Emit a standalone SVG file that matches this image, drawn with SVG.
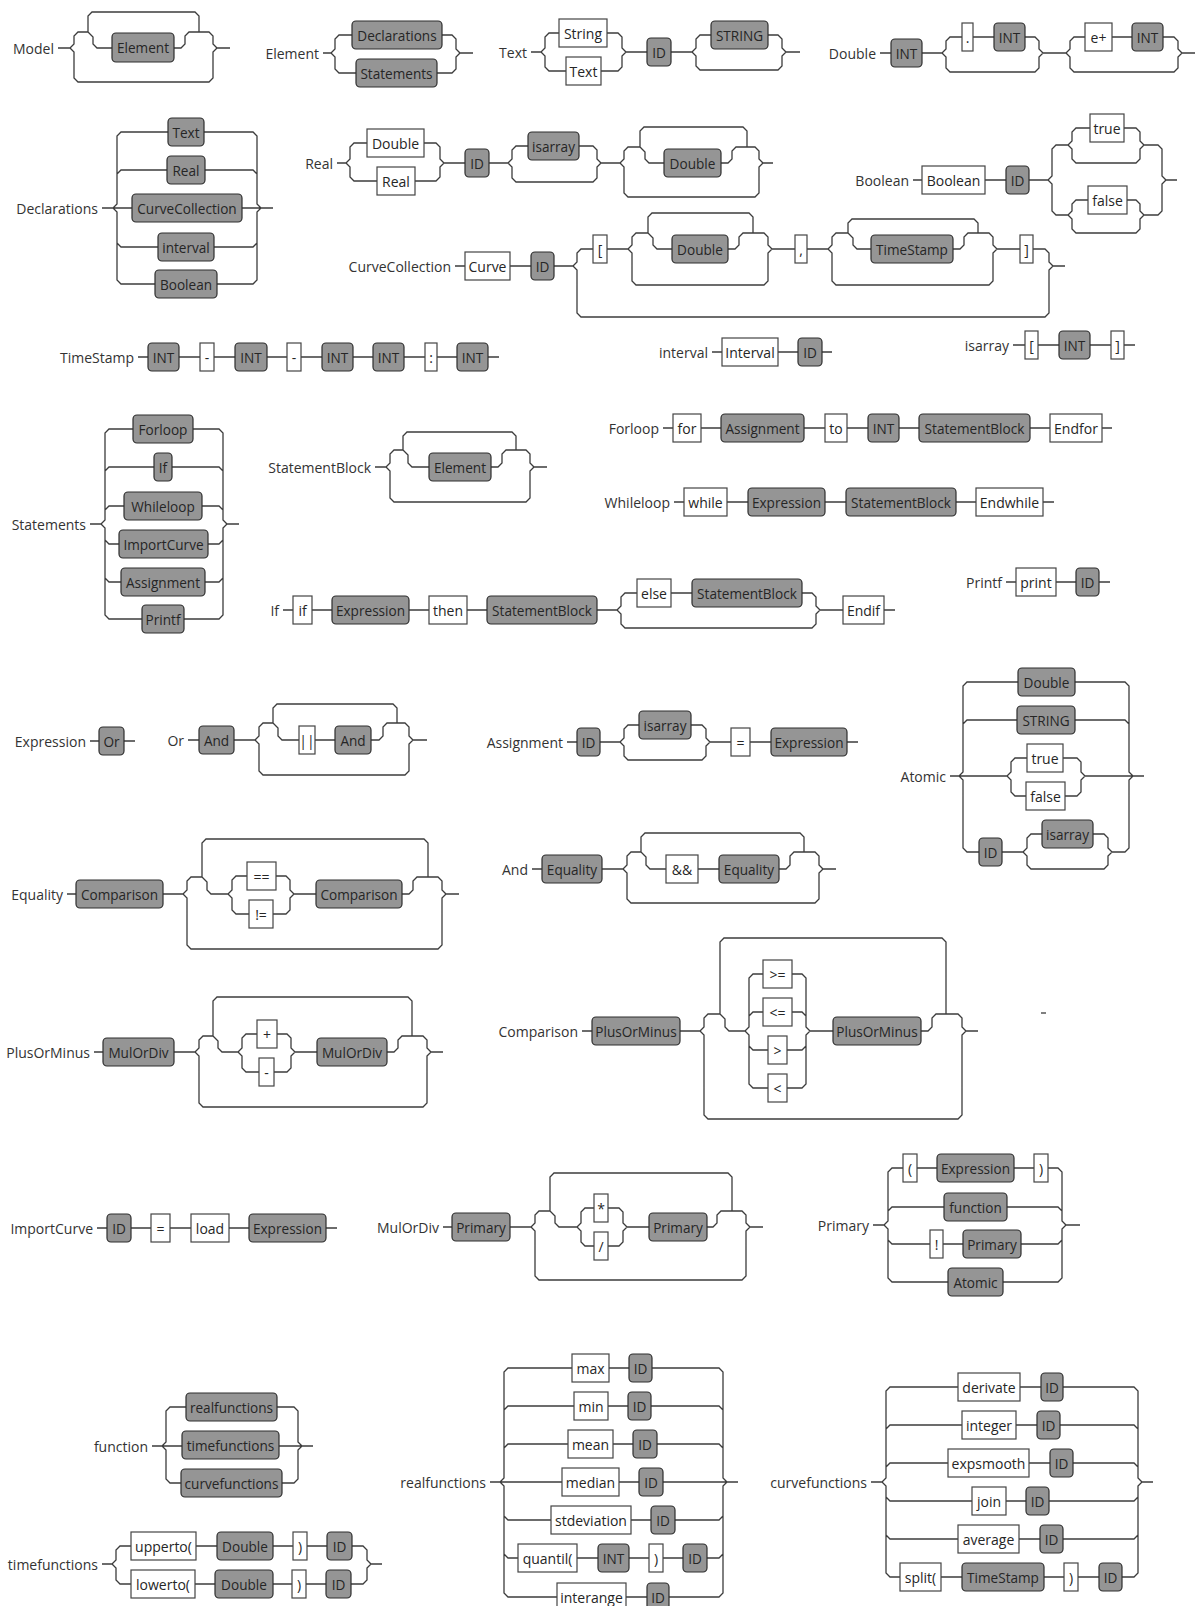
<svg xmlns="http://www.w3.org/2000/svg" width="1195" height="1606" viewBox="0 0 1195 1606">
<style>
text{font-family:"Open Sans","Noto Sans","DejaVu Sans",sans-serif;font-size:14px;fill:#262626}
.lbl{text-anchor:end;dominant-baseline:central;fill:#333}
.nt rect{fill:#959595;stroke:#2e2e2e;stroke-width:1.2}
.t rect{fill:#fff;stroke:#444;stroke-width:1.2}
.nt text,.t text{text-anchor:middle;dominant-baseline:central}
.nt text{font-size:13.6px}
#connectors path{fill:none;stroke:#3c3c3c;stroke-width:1.3}
</style>
<rect width="1195" height="1606" fill="#fff"/>
<g id="connectors">
<!-- Model -->
<path d="M58,48 H70 M70,48 L74,44 V36 L78,32 H88 M70,48 L74,52 V78 L78,82 H209 L213,78 V52 L217,48 M88,32 V16 L92,12 H195 L199,16 V32 M88,32 L93,37 V44 L97,48 H112 M174,48 H181 L185,44 V36 L189,32 H209 L213,36 V44 L217,48 H230"/>
<!-- Element -->
<path d="M323,53 H331 M331,53 L335,49 V39 L339,35 H352 M331,53 L335,57 V69 L339,73 H356 M442,35 H452 L456,39 V49 L460,53 H473 M437,73 H452 L456,69 V57 L460,53"/>
<!-- Text -->
<path d="M531,52 H541 M541,52 L545,48 V37 L549,33 H559 M541,52 L545,56 V67 L549,71 H566 M607,33 H618 L622,37 V48 L626,52 H647 M601,71 H618 L622,67 V56 L626,52 M671,52 H692 M692,52 L696,48 V39 L700,35 H711 M692,52 L696,56 V66 L700,70 H778 L782,66 V56 L786,52 M768,35 H778 L782,39 V48 L786,52 H800"/>
<!-- Double -->
<path d="M880,53 H891 M922,53 H942 M942,53 L946,49 V41 L950,37 H962 M973,37 H994 M1025,37 H1035 L1039,41 V49 L1043,53 M942,53 L946,57 V68 L950,72 H1035 L1039,68 V57 L1043,53 M1043,53 H1066 M1066,53 L1070,49 V41 L1074,37 H1085 M1112,37 H1132 M1163,37 H1174 L1178,41 V49 L1182,53 H1195 M1066,53 L1070,57 V68 L1074,72 H1174 L1178,68 V57 L1182,53"/>
<!-- Declarations -->
<path d="M102,208 H132 M113,208 L117,204 V136 L121,132 H168 M117,174 L121,170 H167 M117,243 L121,247 H158 M113,208 L117,212 V280 L121,284 H155 M204,132 H253 L257,136 V204 L261,208 H273 M205,170 H253 L257,174 M242,208 H261 M214,247 H253 L257,243 M217,284 H253 L257,280 V212 L261,208"/>
<!-- Real -->
<path d="M337,163 H346 M346,163 L350,159 V147 L354,143 H367 M346,163 L350,167 V177 L354,181 H377 M424,143 H436 L440,147 V159 L444,163 H465 M415,181 H436 L440,177 V167 L444,163 M489,163 H508 M508,163 L512,159 V150 L516,146 H528 M579,146 H593 L597,150 V159 L601,163 M508,163 L512,167 V178 L516,182 H593 L597,178 V167 L601,163 M601,163 H620 M620,163 L624,159 V151 L628,147 H640 M640,147 V131 L644,127 H743 L747,131 V147 M640,147 L645,152 V159 L649,163 H664 M721,163 H728 L732,159 V151 L736,147 H755 L759,151 V159 L763,163 H773 M620,163 L624,167 V193 L628,197 H755 L759,193 V167 L763,163"/>
<!-- Boolean -->
<path d="M913,180 H922 M985,180 H1006 M1029,180 H1048 M1048,180 L1052,176 V149 L1056,145 H1068 M1048,180 L1052,184 V211 L1056,215 H1068 M1068,145 L1072,141 V132 L1076,128 H1090 M1124,128 H1136 L1140,132 V141 L1144,145 M1068,145 L1072,149 V159 L1076,163 H1136 L1140,159 V149 L1144,145 M1068,215 L1072,211 V204 L1076,200 H1088 M1127,200 H1136 L1140,204 V211 L1144,215 M1068,215 L1072,219 V229 L1076,233 H1136 L1140,229 V219 L1144,215 M1144,145 H1158 L1162,149 V176 L1166,180 H1177 M1144,215 H1158 L1162,211 V184 L1166,180"/>
<!-- CurveCollection -->
<path d="M455,266 H465 M510,266 H531 M554,266 H573 M573,266 L577,262 V253 L581,249 H593 M573,266 L577,270 V313 L581,317 H1045 L1049,313 V270 L1053,266 M607,249 H628 M628,249 L632,245 V237 L636,233 H648 M648,233 V217 L652,213 H749 L753,217 V233 M648,233 L653,238 V245 L657,249 H672 M728,249 H735 L739,245 V237 L743,233 H764 L768,237 V245 L772,249 M628,249 L632,253 V281 L636,285 H764 L768,281 V253 L772,249 M772,249 H795 M807,249 H828 M828,249 L832,245 V237 L836,233 H848 M848,233 V223 L852,219 H974 L978,223 V233 M848,233 L853,238 V245 L857,249 H871 M953,249 H960 L964,245 V237 L968,233 H989 L993,237 V245 L997,249 M828,249 L832,253 V281 L836,285 H989 L993,281 V253 L997,249 M997,249 H1020 M1033,249 H1045 L1049,253 V262 L1053,266 H1065"/>
<!-- TimeStamp -->
<path d="M138,357 H148 M179,357 H200 M214,357 H235 M267,357 H287 M301,357 H322 M353,357 H373 M404,357 H425 M437,357 H457 M488,357 H499"/>
<!-- interval -->
<path d="M712,352 H722 M778,352 H798 M822,352 H832"/>
<!-- isarray -->
<path d="M1013,345 H1025 M1038,345 H1059 M1090,345 H1111 M1124,345 H1135"/>
<!-- Statements -->
<path d="M90,524 H101 M101,524 L105,520 V433 L109,429 H133 M101,524 L105,528 V615 L109,619 H142 M105,471 L109,467 H154 M105,510 L109,506 H124 M105,540 L109,544 H119 M105,578 L109,582 H121 M193,429 H219 L223,433 V520 L227,524 H239 M184,619 H219 L223,615 V528 L227,524 M172,467 H219 L223,471 M202,506 H219 L223,510 M208,544 H219 L223,540 M205,582 H219 L223,578"/>
<!-- StatementBlock -->
<path d="M375,467 H386 M386,467 L390,463 V454 L394,450 H403 M403,450 V436 L407,432 H512 L516,436 V450 M403,450 L408,455 V463 L412,467 H429 M491,467 H498 L502,463 V454 L506,450 H526 L530,454 V463 L534,467 H547 M386,467 L390,471 V498 L394,502 H526 L530,498 V471 L534,467"/>
<!-- Forloop -->
<path d="M663,428 H673 M701,428 H721 M804,428 H825 M847,428 H868 M899,428 H919 M1030,428 H1050 M1102,428 H1112"/>
<!-- Whileloop -->
<path d="M674,502 H684 M727,502 H748 M825,502 H846 M956,502 H976 M1043,502 H1054"/>
<!-- If -->
<path d="M283,610 H293 M312,610 H332 M409,610 H429 M467,610 H487 M597,610 H617 M617,610 L621,606 V597 L625,593 H637 M671,593 H692 M802,593 H812 L816,597 V606 L820,610 M617,610 L621,614 V624 L625,628 H812 L816,624 V614 L820,610 M820,610 H843 M884,610 H895"/>
<!-- Printf -->
<path d="M1006,582 H1016 M1056,582 H1076 M1099,582 H1110"/>
<!-- Expression -->
<path d="M90,741 H99 M124,741 H135"/>
<!-- Or -->
<path d="M188,740 H199 M234,740 H255 M255,740 L259,736 V727 L263,723 H273 M273,723 V708 L277,704 H393 L397,708 V723 M273,723 L278,728 V736 L282,740 H299 M315,740 H335 M371,740 H379 L383,736 V727 L387,723 H405 L409,727 V736 L413,740 H427 M255,740 L259,744 V771 L263,775 H405 L409,771 V744 L413,740"/>
<!-- Assignment -->
<path d="M567,742 H577 M600,742 H620 M620,742 L624,738 V729 L628,725 H639 M691,725 H702 L706,729 V738 L710,742 M620,742 L624,746 V756 L628,760 H702 L706,756 V746 L710,742 M710,742 H731 M750,742 H771 M847,742 H858"/>
<!-- Atomic -->
<path d="M950,776 H1007 M959,776 L963,772 V686 L967,682 H1018 M959,776 L963,780 V848 L967,852 H979 M963,724 L967,720 H1017 M1007,776 L1011,772 V762 L1015,758 H1027 M1063,758 H1077 L1081,762 V772 L1085,776 M1007,776 L1011,780 V792 L1015,796 H1026 M1065,796 H1077 L1081,792 V780 L1085,776 M1085,776 H1144 M1002,852 H1023 M1023,852 L1027,848 V838 L1031,834 H1042 M1093,834 H1104 L1108,838 V848 L1112,852 M1023,852 L1027,856 V865 L1031,869 H1104 L1108,865 V856 L1112,852 M1112,852 H1125 L1129,848 V780 L1133,776 M1075,682 H1125 L1129,686 V772 L1133,776 M1075,720 H1125 L1129,724"/>
<!-- Equality -->
<path d="M67,894 H76 M163,894 H183 M183,894 L187,890 V881 L191,877 H202 M202,877 V843 L206,839 H424 L428,843 V877 M202,877 L207,882 V890 L211,894 H228 M228,894 L232,890 V880 L236,876 H247 M276,876 H286 L290,880 V890 L294,894 M228,894 L232,898 V910 L236,914 H249 M273,914 H286 L290,910 V898 L294,894 M294,894 H316 M402,894 H409 L413,890 V881 L417,877 H438 L442,881 V890 L446,894 H459 M183,894 L187,898 V945 L191,949 H438 L442,945 V898 L446,894"/>
<!-- PlusOrMinus -->
<path d="M94,1052 H103 M174,1052 H195 M195,1052 L199,1048 V1040 L203,1036 H213 M213,1036 V1001 L217,997 H408 L412,1001 V1036 M213,1036 L218,1041 V1048 L222,1052 H238 M238,1052 L242,1048 V1038 L246,1034 H257 M277,1034 H287 L291,1038 V1048 L295,1052 M238,1052 L242,1056 V1068 L246,1072 H259 M274,1072 H287 L291,1068 V1056 L295,1052 M295,1052 H317 M387,1052 H394 L398,1048 V1040 L402,1036 H423 L427,1040 V1048 L431,1052 H443 M195,1052 L199,1056 V1103 L203,1107 H423 L427,1103 V1056 L431,1052"/>
<!-- And -->
<path d="M532,869 H542 M602,869 H623 M623,869 L627,865 V856 L631,852 H641 M641,852 V837 L645,833 H800 L804,837 V852 M641,852 L646,857 V865 L650,869 H666 M698,869 H719 M779,869 H786 L790,865 V856 L794,852 H815 L819,856 V865 L823,869 H836 M623,869 L627,873 V899 L631,903 H815 L819,899 V873 L823,869"/>
<!-- Comparison -->
<path d="M582,1031 H592 M680,1031 H700 M700,1031 L704,1027 V1018 L708,1014 H720 M720,1014 V942 L724,938 H942 L946,942 V1014 M720,1014 L725,1019 V1027 L729,1031 H745 M745,1031 L749,1027 V978 L753,974 H763 M749,1016 L753,1012 H763 M749,1046 L753,1050 H768 M745,1031 L749,1035 V1084 L753,1088 H768 M792,974 H802 L806,978 V1027 L810,1031 M792,1012 H802 L806,1016 M787,1050 H802 L806,1046 M787,1088 H802 L806,1084 V1035 L810,1031 M810,1031 H833 M921,1031 H928 L932,1027 V1018 L936,1014 H958 L962,1018 V1027 L966,1031 H978 M700,1031 L704,1035 V1115 L708,1119 H958 L962,1115 V1035 L966,1031"/>
<!-- ImportCurve -->
<path d="M97,1228 H107 M131,1228 H151 M170,1228 H191 M229,1228 H249 M326,1228 H337"/>
<!-- MulOrDiv -->
<path d="M443,1227 H452 M510,1227 H531 M531,1227 L535,1223 V1215 L539,1211 H550 M550,1211 V1177 L554,1173 H728 L732,1177 V1211 M550,1211 L555,1216 V1223 L559,1227 H577 M577,1227 L581,1223 V1212 L585,1208 H594 M608,1208 H619 L623,1212 V1223 L627,1227 M577,1227 L581,1231 V1242 L585,1246 H594 M608,1246 H619 L623,1242 V1231 L627,1227 M627,1227 H649 M707,1227 H713 L717,1223 V1215 L721,1211 H742 L746,1215 V1223 L750,1227 H763 M531,1227 L535,1231 V1276 L539,1280 H742 L746,1276 V1231 L750,1227"/>
<!-- Primary -->
<path d="M873,1225 H884 M884,1225 L888,1221 V1172 L892,1168 H903 M888,1211 L892,1207 H944 M888,1240 L892,1244 H930 M884,1225 L888,1229 V1278 L892,1282 H948 M917,1168 H937 M1014,1168 H1034 M1048,1168 H1058 L1062,1172 V1221 L1066,1225 H1080 M1007,1207 H1058 L1062,1211 M943,1244 H963 M1021,1244 H1058 L1062,1240 M1003,1282 H1058 L1062,1278 V1229 L1066,1225"/>
<!-- function -->
<path d="M152,1446 H182 M162,1446 L166,1442 V1411 L170,1407 H186 M162,1446 L166,1450 V1479 L170,1483 H181 M277,1407 H294 L298,1411 V1442 L302,1446 H313 M279,1446 H302 M282,1483 H294 L298,1479 V1450 L302,1446"/>
<!-- timefunctions -->
<path d="M102,1564 H112 M112,1564 L116,1560 V1550 L120,1546 H131 M196,1546 H217 M273,1546 H293 M307,1546 H327 M352,1546 H363 L367,1550 V1560 L371,1564 H382 M112,1564 L116,1568 V1580 L120,1584 H131 M195,1584 H215 M273,1584 H292 M306,1584 H326 M351,1584 H363 L367,1580 V1568 L371,1564"/>
<!-- realfunctions -->
<path d="M490,1482 H562 M500,1482 L504,1478 V1372 L508,1368 H572 M504,1410 L508,1406 H574 M504,1448 L508,1444 H568 M504,1516 L508,1520 H551 M504,1554 L508,1558 H518 M500,1482 L504,1486 V1593 L508,1597 H557 M609,1368 H629 M652,1368 H719 L723,1372 V1478 L727,1482 H738 M608,1406 H628 M651,1406 H719 L723,1410 M613,1444 H633 M657,1444 H719 L723,1448 M619,1482 H639 M663,1482 H727 M631,1520 H651 M675,1520 H719 L723,1516 M577,1558 H598 M629,1558 H649 M663,1558 H683 M707,1558 H719 L723,1554 M626,1597 H647 M669,1597 H719 L723,1593 V1486 L727,1482"/>
<!-- curvefunctions -->
<path d="M871,1482 H882 M882,1482 L886,1478 V1391 L890,1387 H958 M886,1429 L890,1425 H962 M886,1467 L890,1463 H948 M886,1497 L890,1501 H972 M886,1535 L890,1539 H958 M882,1482 L886,1486 V1573 L890,1577 H900 M1020,1387 H1041 M1063,1387 H1134 L1138,1391 V1478 L1142,1482 H1153 M1016,1425 H1037 M1060,1425 H1134 L1138,1429 M1029,1463 H1050 M1073,1463 H1134 L1138,1467 M1006,1501 H1026 M1049,1501 H1134 L1138,1497 M1019,1539 H1040 M1063,1539 H1134 L1138,1535 M941,1577 H962 M1044,1577 H1064 M1078,1577 H1099 M1122,1577 H1134 L1138,1573 V1486 L1142,1482"/>
<!-- stray mark -->
<path d="M1041,1013 H1046"/>
</g>

<g id="rule-Model"><text class="lbl" x="54" y="48">Model</text>
<g id="model-element" class="nt"><rect x="112" y="33" width="62" height="29" rx="4"/><text x="143" y="47.5">Element</text></g>
</g>
<g id="rule-Element"><text class="lbl" x="319" y="53">Element</text>
<g id="element-declarations" class="nt"><rect x="352" y="21" width="90" height="28" rx="4"/><text x="397" y="35">Declarations</text></g>
<g id="element-statements" class="nt"><rect x="356" y="59" width="81" height="28" rx="4"/><text x="396.5" y="73">Statements</text></g>
</g>
<g id="rule-Text"><text class="lbl" x="527" y="52">Text</text>
<g id="text-string" class="t"><rect x="559" y="19" width="48" height="28"/><text x="583" y="33">String</text></g>
<g id="text-text" class="t"><rect x="566" y="57" width="35" height="28"/><text x="583.5" y="71">Text</text></g>
<g id="text-id" class="nt"><rect x="647" y="38" width="24" height="28" rx="4"/><text x="659" y="52">ID</text></g>
<g id="text-STRING" class="nt"><rect x="711" y="21" width="57" height="28" rx="4"/><text x="739.5" y="35">STRING</text></g>
</g>
<g id="rule-Double"><text class="lbl" x="876" y="53">Double</text>
<g id="double-int1" class="nt"><rect x="891" y="39" width="31" height="28" rx="4"/><text x="906.5" y="53">INT</text></g>
<g id="double-dot" class="t"><rect x="962" y="23" width="11" height="28"/><text x="967.5" y="37">.</text></g>
<g id="double-int2" class="nt"><rect x="994" y="23" width="31" height="28" rx="4"/><text x="1009.5" y="37">INT</text></g>
<g id="double-eplus" class="t"><rect x="1085" y="23" width="27" height="28"/><text x="1098.5" y="37">e+</text></g>
<g id="double-int3" class="nt"><rect x="1132" y="23" width="31" height="28" rx="4"/><text x="1147.5" y="37">INT</text></g>
</g>
<g id="rule-Declarations"><text class="lbl" x="98" y="208">Declarations</text>
<g id="decl-text" class="nt"><rect x="168" y="118" width="36" height="28" rx="4"/><text x="186" y="132">Text</text></g>
<g id="decl-real" class="nt"><rect x="167" y="156" width="38" height="28" rx="4"/><text x="186" y="170">Real</text></g>
<g id="decl-cc" class="nt"><rect x="132" y="194" width="110" height="28" rx="4"/><text x="187" y="208">CurveCollection</text></g>
<g id="decl-interval" class="nt"><rect x="158" y="233" width="56" height="28" rx="4"/><text x="186" y="247">interval</text></g>
<g id="decl-boolean" class="nt"><rect x="155" y="270" width="62" height="28" rx="4"/><text x="186" y="284">Boolean</text></g>
</g>
<g id="rule-Real"><text class="lbl" x="333" y="163">Real</text>
<g id="real-double" class="t"><rect x="367" y="129" width="57" height="28"/><text x="395.5" y="143">Double</text></g>
<g id="real-real" class="t"><rect x="377" y="167" width="38" height="28"/><text x="396" y="181">Real</text></g>
<g id="real-id" class="nt"><rect x="465" y="149" width="24" height="28" rx="4"/><text x="477" y="163">ID</text></g>
<g id="real-isarray" class="nt"><rect x="528" y="132" width="51" height="28" rx="4"/><text x="553.5" y="146">isarray</text></g>
<g id="real-double2" class="nt"><rect x="664" y="149" width="57" height="28" rx="4"/><text x="692.5" y="163">Double</text></g>
</g>
<g id="rule-Boolean"><text class="lbl" x="909" y="180">Boolean</text>
<g id="bool-kw" class="t"><rect x="922" y="166" width="63" height="28"/><text x="953.5" y="180">Boolean</text></g>
<g id="bool-id" class="nt"><rect x="1006" y="166" width="23" height="28" rx="4"/><text x="1017.5" y="180">ID</text></g>
<g id="bool-true" class="t"><rect x="1090" y="114" width="34" height="28"/><text x="1107" y="128">true</text></g>
<g id="bool-false" class="t"><rect x="1088" y="186" width="39" height="28"/><text x="1107.5" y="200">false</text></g>
</g>
<g id="rule-CurveCollection"><text class="lbl" x="451" y="266">CurveCollection</text>
<g id="cc-curve" class="t"><rect x="465" y="252" width="45" height="28"/><text x="487.5" y="266">Curve</text></g>
<g id="cc-id" class="nt"><rect x="531" y="252" width="23" height="28" rx="4"/><text x="542.5" y="266">ID</text></g>
<g id="cc-lb" class="t"><rect x="593" y="235" width="14" height="28"/><text x="600" y="249">[</text></g>
<g id="cc-double" class="nt"><rect x="672" y="235" width="56" height="28" rx="4"/><text x="700" y="249">Double</text></g>
<g id="cc-comma" class="t"><rect x="795" y="235" width="12" height="28"/><text x="801" y="249">,</text></g>
<g id="cc-ts" class="nt"><rect x="871" y="235" width="82" height="28" rx="4"/><text x="912" y="249">TimeStamp</text></g>
<g id="cc-rb" class="t"><rect x="1020" y="235" width="13" height="28"/><text x="1026.5" y="249">]</text></g>
</g>
<g id="rule-TimeStamp"><text class="lbl" x="134" y="357">TimeStamp</text>
<g id="ts-int1" class="nt"><rect x="148" y="343" width="31" height="28" rx="4"/><text x="163.5" y="357">INT</text></g>
<g id="ts-dash1" class="t"><rect x="200" y="343" width="14" height="28"/><text x="207" y="357">-</text></g>
<g id="ts-int2" class="nt"><rect x="235" y="343" width="32" height="28" rx="4"/><text x="251" y="357">INT</text></g>
<g id="ts-dash2" class="t"><rect x="287" y="343" width="14" height="28"/><text x="294" y="357">-</text></g>
<g id="ts-int3" class="nt"><rect x="322" y="343" width="31" height="28" rx="4"/><text x="337.5" y="357">INT</text></g>
<g id="ts-int4" class="nt"><rect x="373" y="343" width="31" height="28" rx="4"/><text x="388.5" y="357">INT</text></g>
<g id="ts-colon" class="t"><rect x="425" y="343" width="12" height="28"/><text x="431" y="357">:</text></g>
<g id="ts-int5" class="nt"><rect x="457" y="343" width="31" height="28" rx="4"/><text x="472.5" y="357">INT</text></g>
</g>
<g id="rule-interval"><text class="lbl" x="708" y="352">interval</text>
<g id="interval-kw" class="t"><rect x="722" y="338" width="56" height="28"/><text x="750" y="352">Interval</text></g>
<g id="interval-id" class="nt"><rect x="798" y="338" width="24" height="28" rx="4"/><text x="810" y="352">ID</text></g>
</g>
<g id="rule-isarray"><text class="lbl" x="1009" y="345">isarray</text>
<g id="isarray-lb" class="t"><rect x="1025" y="331" width="13" height="28"/><text x="1031.5" y="345">[</text></g>
<g id="isarray-int" class="nt"><rect x="1059" y="331" width="31" height="28" rx="4"/><text x="1074.5" y="345">INT</text></g>
<g id="isarray-rb" class="t"><rect x="1111" y="331" width="13" height="28"/><text x="1117.5" y="345">]</text></g>
</g>
<g id="rule-Statements"><text class="lbl" x="86" y="524">Statements</text>
<g id="st-forloop" class="nt"><rect x="133" y="415" width="60" height="28" rx="4"/><text x="163" y="429">Forloop</text></g>
<g id="st-if" class="nt"><rect x="154" y="453" width="18" height="28" rx="4"/><text x="163" y="467">If</text></g>
<g id="st-while" class="nt"><rect x="124" y="492" width="78" height="28" rx="4"/><text x="163" y="506">Whileloop</text></g>
<g id="st-import" class="nt"><rect x="119" y="530" width="89" height="28" rx="4"/><text x="163.5" y="544">ImportCurve</text></g>
<g id="st-assign" class="nt"><rect x="121" y="568" width="84" height="28" rx="4"/><text x="163" y="582">Assignment</text></g>
<g id="st-printf" class="nt"><rect x="142" y="605" width="42" height="28" rx="4"/><text x="163" y="619">Printf</text></g>
</g>
<g id="rule-StatementBlock"><text class="lbl" x="371" y="467">StatementBlock</text>
<g id="sb-element" class="nt"><rect x="429" y="453" width="62" height="28" rx="4"/><text x="460" y="467">Element</text></g>
</g>
<g id="rule-Forloop"><text class="lbl" x="659" y="428">Forloop</text>
<g id="for-for" class="t"><rect x="673" y="414" width="28" height="28"/><text x="687" y="428">for</text></g>
<g id="for-assign" class="nt"><rect x="721" y="414" width="83" height="28" rx="4"/><text x="762.5" y="428">Assignment</text></g>
<g id="for-to" class="t"><rect x="825" y="414" width="22" height="28"/><text x="836" y="428">to</text></g>
<g id="for-int" class="nt"><rect x="868" y="414" width="31" height="28" rx="4"/><text x="883.5" y="428">INT</text></g>
<g id="for-sb" class="nt"><rect x="919" y="414" width="111" height="28" rx="4"/><text x="974.5" y="428">StatementBlock</text></g>
<g id="for-endfor" class="t"><rect x="1050" y="414" width="52" height="28"/><text x="1076" y="428">Endfor</text></g>
</g>
<g id="rule-Whileloop"><text class="lbl" x="670" y="502">Whileloop</text>
<g id="wh-while" class="t"><rect x="684" y="488" width="43" height="28"/><text x="705.5" y="502">while</text></g>
<g id="wh-expr" class="nt"><rect x="748" y="488" width="77" height="28" rx="4"/><text x="786.5" y="502">Expression</text></g>
<g id="wh-sb" class="nt"><rect x="846" y="488" width="110" height="28" rx="4"/><text x="901" y="502">StatementBlock</text></g>
<g id="wh-end" class="t"><rect x="976" y="488" width="67" height="28"/><text x="1009.5" y="502">Endwhile</text></g>
</g>
<g id="rule-If"><text class="lbl" x="279" y="610">If</text>
<g id="if-if" class="t"><rect x="293" y="596" width="19" height="28"/><text x="302.5" y="610">if</text></g>
<g id="if-expr" class="nt"><rect x="332" y="596" width="77" height="28" rx="4"/><text x="370.5" y="610">Expression</text></g>
<g id="if-then" class="t"><rect x="429" y="596" width="38" height="28"/><text x="448" y="610">then</text></g>
<g id="if-sb" class="nt"><rect x="487" y="596" width="110" height="28" rx="4"/><text x="542" y="610">StatementBlock</text></g>
<g id="if-else" class="t"><rect x="637" y="579" width="34" height="28"/><text x="654" y="593">else</text></g>
<g id="if-sb2" class="nt"><rect x="692" y="579" width="110" height="28" rx="4"/><text x="747" y="593">StatementBlock</text></g>
<g id="if-endif" class="t"><rect x="843" y="596" width="41" height="28"/><text x="863.5" y="610">Endif</text></g>
</g>
<g id="rule-Printf"><text class="lbl" x="1002" y="582">Printf</text>
<g id="pr-print" class="t"><rect x="1016" y="568" width="40" height="28"/><text x="1036" y="582">print</text></g>
<g id="pr-id" class="nt"><rect x="1076" y="568" width="23" height="28" rx="4"/><text x="1087.5" y="582">ID</text></g>
</g>
<g id="rule-Expression"><text class="lbl" x="86" y="741">Expression</text>
<g id="ex-or" class="nt"><rect x="99" y="727" width="25" height="28" rx="4"/><text x="111.5" y="741">Or</text></g>
</g>
<g id="rule-Or"><text class="lbl" x="184" y="740">Or</text>
<g id="or-and" class="nt"><rect x="199" y="726" width="35" height="28" rx="4"/><text x="216.5" y="740">And</text></g>
<g id="or-bar" class="t"><rect x="299" y="726" width="16" height="28"/><text x="307" y="740">||</text></g>
<g id="or-and2" class="nt"><rect x="335" y="726" width="36" height="28" rx="4"/><text x="353" y="740">And</text></g>
</g>
<g id="rule-Assignment"><text class="lbl" x="563" y="742">Assignment</text>
<g id="as-id" class="nt"><rect x="577" y="728" width="23" height="28" rx="4"/><text x="588.5" y="742">ID</text></g>
<g id="as-isarray" class="nt"><rect x="639" y="711" width="52" height="28" rx="4"/><text x="665" y="725">isarray</text></g>
<g id="as-eq" class="t"><rect x="731" y="728" width="19" height="28"/><text x="740.5" y="742">=</text></g>
<g id="as-expr" class="nt"><rect x="771" y="728" width="76" height="28" rx="4"/><text x="809" y="742">Expression</text></g>
</g>
<g id="rule-Atomic"><text class="lbl" x="946" y="776">Atomic</text>
<g id="at-double" class="nt"><rect x="1018" y="668" width="57" height="28" rx="4"/><text x="1046.5" y="682">Double</text></g>
<g id="at-string" class="nt"><rect x="1017" y="706" width="58" height="28" rx="4"/><text x="1046" y="720">STRING</text></g>
<g id="at-true" class="t"><rect x="1027" y="744" width="36" height="28"/><text x="1045" y="758">true</text></g>
<g id="at-false" class="t"><rect x="1026" y="782" width="39" height="28"/><text x="1045.5" y="796">false</text></g>
<g id="at-id" class="nt"><rect x="979" y="838" width="23" height="28" rx="4"/><text x="990.5" y="852">ID</text></g>
<g id="at-isarray" class="nt"><rect x="1042" y="820" width="51" height="28" rx="4"/><text x="1067.5" y="834">isarray</text></g>
</g>
<g id="rule-Equality"><text class="lbl" x="63" y="894">Equality</text>
<g id="eq-comp" class="nt"><rect x="76" y="880" width="87" height="28" rx="4"/><text x="119.5" y="894">Comparison</text></g>
<g id="eq-eq" class="t"><rect x="247" y="862" width="29" height="28"/><text x="261.5" y="876">==</text></g>
<g id="eq-ne" class="t"><rect x="249" y="900" width="24" height="28"/><text x="261" y="914">!=</text></g>
<g id="eq-comp2" class="nt"><rect x="316" y="880" width="86" height="28" rx="4"/><text x="359" y="894">Comparison</text></g>
</g>
<g id="rule-PlusOrMinus"><text class="lbl" x="90" y="1052">PlusOrMinus</text>
<g id="pm-mod" class="nt"><rect x="103" y="1038" width="71" height="28" rx="4"/><text x="138.5" y="1052">MulOrDiv</text></g>
<g id="pm-plus" class="t"><rect x="257" y="1020" width="20" height="28"/><text x="267" y="1034">+</text></g>
<g id="pm-minus" class="t"><rect x="259" y="1058" width="15" height="28"/><text x="266.5" y="1072">-</text></g>
<g id="pm-mod2" class="nt"><rect x="317" y="1038" width="70" height="28" rx="4"/><text x="352" y="1052">MulOrDiv</text></g>
</g>
<g id="rule-And"><text class="lbl" x="528" y="869">And</text>
<g id="and-eq" class="nt"><rect x="542" y="855" width="60" height="28" rx="4"/><text x="572" y="869">Equality</text></g>
<g id="and-amp" class="t"><rect x="666" y="855" width="32" height="28"/><text x="682" y="869">&amp;&amp;</text></g>
<g id="and-eq2" class="nt"><rect x="719" y="855" width="60" height="28" rx="4"/><text x="749" y="869">Equality</text></g>
</g>
<g id="rule-Comparison"><text class="lbl" x="578" y="1031">Comparison</text>
<g id="cmp-pm" class="nt"><rect x="592" y="1017" width="88" height="28" rx="4"/><text x="636" y="1031">PlusOrMinus</text></g>
<g id="cmp-ge" class="t"><rect x="763" y="960" width="29" height="28"/><text x="777.5" y="974">&gt;=</text></g>
<g id="cmp-le" class="t"><rect x="763" y="998" width="29" height="28"/><text x="777.5" y="1012">&lt;=</text></g>
<g id="cmp-gt" class="t"><rect x="768" y="1036" width="19" height="28"/><text x="777.5" y="1050">&gt;</text></g>
<g id="cmp-lt" class="t"><rect x="768" y="1074" width="19" height="28"/><text x="777.5" y="1088">&lt;</text></g>
<g id="cmp-pm2" class="nt"><rect x="833" y="1017" width="88" height="28" rx="4"/><text x="877" y="1031">PlusOrMinus</text></g>
</g>
<g id="rule-ImportCurve"><text class="lbl" x="93" y="1228">ImportCurve</text>
<g id="ic-id" class="nt"><rect x="107" y="1214" width="24" height="28" rx="4"/><text x="119" y="1228">ID</text></g>
<g id="ic-eq" class="t"><rect x="151" y="1214" width="19" height="28"/><text x="160.5" y="1228">=</text></g>
<g id="ic-load" class="t"><rect x="191" y="1214" width="38" height="28"/><text x="210" y="1228">load</text></g>
<g id="ic-expr" class="nt"><rect x="249" y="1214" width="77" height="28" rx="4"/><text x="287.5" y="1228">Expression</text></g>
</g>
<g id="rule-MulOrDiv"><text class="lbl" x="439" y="1227">MulOrDiv</text>
<g id="md-primary" class="nt"><rect x="452" y="1213" width="58" height="28" rx="4"/><text x="481" y="1227">Primary</text></g>
<g id="md-star" class="t"><rect x="594" y="1194" width="14" height="28"/><text x="601" y="1208">*</text></g>
<g id="md-slash" class="t"><rect x="594" y="1232" width="14" height="28"/><text x="601" y="1246">/</text></g>
<g id="md-primary2" class="nt"><rect x="649" y="1213" width="58" height="28" rx="4"/><text x="678" y="1227">Primary</text></g>
</g>
<g id="rule-Primary"><text class="lbl" x="869" y="1225">Primary</text>
<g id="pr-lp" class="t"><rect x="903" y="1154" width="14" height="28"/><text x="910" y="1168">(</text></g>
<g id="pr-expr" class="nt"><rect x="937" y="1154" width="77" height="28" rx="4"/><text x="975.5" y="1168">Expression</text></g>
<g id="pr-rp" class="t"><rect x="1034" y="1154" width="14" height="28"/><text x="1041" y="1168">)</text></g>
<g id="pr-func" class="nt"><rect x="944" y="1193" width="63" height="28" rx="4"/><text x="975.5" y="1207">function</text></g>
<g id="pr-not" class="t"><rect x="930" y="1230" width="13" height="28"/><text x="936.5" y="1244">!</text></g>
<g id="pr-primary" class="nt"><rect x="963" y="1230" width="58" height="28" rx="4"/><text x="992" y="1244">Primary</text></g>
<g id="pr-atomic" class="nt"><rect x="948" y="1268" width="55" height="28" rx="4"/><text x="975.5" y="1282">Atomic</text></g>
</g>
<g id="rule-function"><text class="lbl" x="148" y="1446">function</text>
<g id="fn-real" class="nt"><rect x="186" y="1393" width="91" height="28" rx="4"/><text x="231.5" y="1407">realfunctions</text></g>
<g id="fn-time" class="nt"><rect x="182" y="1431" width="97" height="28" rx="4"/><text x="230.5" y="1445">timefunctions</text></g>
<g id="fn-curve" class="nt"><rect x="181" y="1469" width="101" height="28" rx="4"/><text x="231.5" y="1483">curvefunctions</text></g>
</g>
<g id="rule-timefunctions"><text class="lbl" x="98" y="1564">timefunctions</text>
<g id="tf-upper" class="t"><rect x="131" y="1532" width="65" height="28"/><text x="163.5" y="1546">upperto(</text></g>
<g id="tf-d1" class="nt"><rect x="217" y="1532" width="56" height="28" rx="4"/><text x="245" y="1546">Double</text></g>
<g id="tf-rp1" class="t"><rect x="293" y="1532" width="14" height="28"/><text x="300" y="1546">)</text></g>
<g id="tf-id1" class="nt"><rect x="327" y="1532" width="25" height="28" rx="4"/><text x="339.5" y="1546">ID</text></g>
<g id="tf-lower" class="t"><rect x="131" y="1570" width="64" height="28"/><text x="163" y="1584">lowerto(</text></g>
<g id="tf-d2" class="nt"><rect x="215" y="1570" width="58" height="28" rx="4"/><text x="244" y="1584">Double</text></g>
<g id="tf-rp2" class="t"><rect x="292" y="1570" width="14" height="28"/><text x="299" y="1584">)</text></g>
<g id="tf-id2" class="nt"><rect x="326" y="1570" width="25" height="28" rx="4"/><text x="338.5" y="1584">ID</text></g>
</g>
<g id="rule-realfunctions"><text class="lbl" x="486" y="1482">realfunctions</text>
<g id="rf-max" class="t"><rect x="572" y="1354" width="37" height="28"/><text x="590.5" y="1368">max</text></g>
<g id="rf-id1" class="nt"><rect x="629" y="1354" width="23" height="28" rx="4"/><text x="640.5" y="1368">ID</text></g>
<g id="rf-min" class="t"><rect x="574" y="1392" width="34" height="28"/><text x="591" y="1406">min</text></g>
<g id="rf-id2" class="nt"><rect x="628" y="1392" width="23" height="28" rx="4"/><text x="639.5" y="1406">ID</text></g>
<g id="rf-mean" class="t"><rect x="568" y="1430" width="45" height="28"/><text x="590.5" y="1444">mean</text></g>
<g id="rf-id3" class="nt"><rect x="633" y="1430" width="24" height="28" rx="4"/><text x="645" y="1444">ID</text></g>
<g id="rf-median" class="t"><rect x="562" y="1468" width="57" height="28"/><text x="590.5" y="1482">median</text></g>
<g id="rf-id4" class="nt"><rect x="639" y="1468" width="24" height="28" rx="4"/><text x="651" y="1482">ID</text></g>
<g id="rf-std" class="t"><rect x="551" y="1506" width="80" height="28"/><text x="591" y="1520">stdeviation</text></g>
<g id="rf-id5" class="nt"><rect x="651" y="1506" width="24" height="28" rx="4"/><text x="663" y="1520">ID</text></g>
<g id="rf-quantil" class="t"><rect x="518" y="1544" width="59" height="28"/><text x="547.5" y="1558">quantil(</text></g>
<g id="rf-int" class="nt"><rect x="598" y="1544" width="31" height="28" rx="4"/><text x="613.5" y="1558">INT</text></g>
<g id="rf-rp" class="t"><rect x="649" y="1544" width="14" height="28"/><text x="656" y="1558">)</text></g>
<g id="rf-id6" class="nt"><rect x="683" y="1544" width="24" height="28" rx="4"/><text x="695" y="1558">ID</text></g>
<g id="rf-inter" class="t"><rect x="557" y="1583" width="69" height="28"/><text x="591.5" y="1597">interange</text></g>
<g id="rf-id7" class="nt"><rect x="647" y="1583" width="22" height="28" rx="4"/><text x="658" y="1597">ID</text></g>
</g>
<g id="rule-curvefunctions"><text class="lbl" x="867" y="1482">curvefunctions</text>
<g id="cf-deriv" class="t"><rect x="958" y="1373" width="62" height="28"/><text x="989" y="1387">derivate</text></g>
<g id="cf-id1" class="nt"><rect x="1041" y="1373" width="22" height="28" rx="4"/><text x="1052" y="1387">ID</text></g>
<g id="cf-integer" class="t"><rect x="962" y="1411" width="54" height="28"/><text x="989" y="1425">integer</text></g>
<g id="cf-id2" class="nt"><rect x="1037" y="1411" width="23" height="28" rx="4"/><text x="1048.5" y="1425">ID</text></g>
<g id="cf-exp" class="t"><rect x="948" y="1449" width="81" height="28"/><text x="988.5" y="1463">expsmooth</text></g>
<g id="cf-id3" class="nt"><rect x="1050" y="1449" width="23" height="28" rx="4"/><text x="1061.5" y="1463">ID</text></g>
<g id="cf-join" class="t"><rect x="972" y="1487" width="34" height="28"/><text x="989" y="1501">join</text></g>
<g id="cf-id4" class="nt"><rect x="1026" y="1487" width="23" height="28" rx="4"/><text x="1037.5" y="1501">ID</text></g>
<g id="cf-avg" class="t"><rect x="958" y="1525" width="61" height="28"/><text x="988.5" y="1539">average</text></g>
<g id="cf-id5" class="nt"><rect x="1040" y="1525" width="23" height="28" rx="4"/><text x="1051.5" y="1539">ID</text></g>
<g id="cf-split" class="t"><rect x="900" y="1563" width="41" height="28"/><text x="920.5" y="1577">split(</text></g>
<g id="cf-ts" class="nt"><rect x="962" y="1563" width="82" height="28" rx="4"/><text x="1003" y="1577">TimeStamp</text></g>
<g id="cf-rp" class="t"><rect x="1064" y="1563" width="14" height="28"/><text x="1071" y="1577">)</text></g>
<g id="cf-id6" class="nt"><rect x="1099" y="1563" width="23" height="28" rx="4"/><text x="1110.5" y="1577">ID</text></g>
</g>
</svg>
